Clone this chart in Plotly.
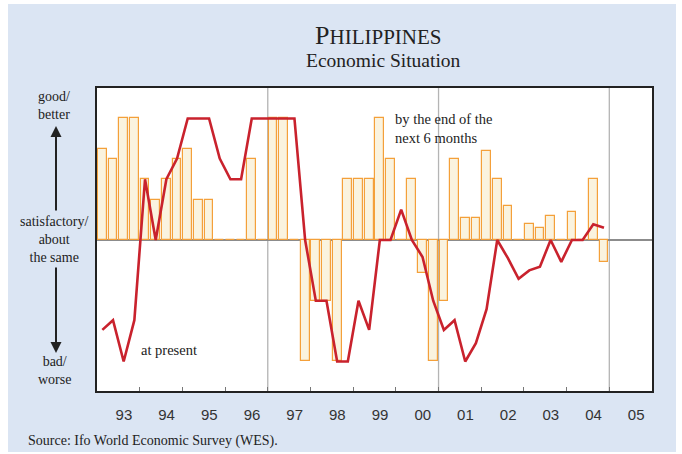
import plotly.graph_objects as go

# Quarterly survey results, 1993 Q1 - 2004 Q4
years = list(range(1993, 2005))
quarters = [1, 2, 3, 4]

# Expectations: by the end of the next 6 months (bars)
expected = [
    75, 67, 100, 100,     # 1993
    50, 33, 50, 67,       # 1994
    75, 33, 33, 0,        # 1995
    0, 0, 67, 0,          # 1996
    100, 100, 0, -100,    # 1997
    -50, -50, -100, 50,   # 1998
    50, 50, 100, 67,      # 1999
    0, 50, -27, -100,     # 2000
    -50, 67, 18, 18,      # 2001
    73, 50, 28, 0,        # 2002
    13, 10, 20, 0,        # 2003
    23, 0, 50, -18,       # 2004
]

# Present economic situation (line)
present = [
    -74, -66, -100, -66,  # 1993
    50, 0, 50, 67,        # 1994
    100, 100, 100, 67,    # 1995
    50, 50, 100, 100,     # 1996
    100, 100, 100, 0,     # 1997
    -50, -50, -100, -100, # 1998
    -50, -74, 0, 0,       # 1999
    25, 0, -14, -50,      # 2000
    -74, -66, -100, -85,  # 2001
    -57, 0, -15, -32,     # 2002
    -25, -22, 0, -18,     # 2003
    0, 0, 13, 10,         # 2004
]

year_labels = ["93", "94", "95", "96", "97", "98", "99", "00", "01", "02", "03", "04", "05"]

# quarter centres on a continuous year axis
xq = [y + (q - 0.5) / 4 for y in years for q in quarters]

BLUE_BG = "#dbe5f3"
SERIF = "Liberation Serif, Times New Roman, serif"
SANS = "Liberation Sans, Arial, sans-serif"

fig = go.Figure()

fig.add_trace(go.Bar(
    x=xq, y=expected, width=0.205,
    marker=dict(color="#faf3df", line=dict(color="#f4a03a", width=1.2)),
    hoverinfo="skip", showlegend=False,
))

fig.add_trace(go.Scatter(
    x=xq, y=present, mode="lines",
    line=dict(color="#c9222d", width=2.6),
    hoverinfo="skip", showlegend=False,
))

# plot area geometry (pixels)
L, R, T, B = 97, 652, 88, 391
W, H = 682, 454


def px(xp):
    return (xp - L) / (R - L)


def py(yp):
    return (B - yp) / (B - T)


label_pos = [1993 + i + 0.63 for i in range(len(year_labels))]

fig.update_layout(
    width=W, height=H,
    margin=dict(l=L, r=W - R, t=T, b=H - B, pad=0),
    paper_bgcolor="white",
    plot_bgcolor="white",
    bargap=0,
    xaxis=dict(
        range=[1993, 2006],
        tickmode="array", tickvals=label_pos, ticktext=year_labels,
        ticks="", ticklabelstandoff=9,
        tickfont=dict(family=SANS, size=15, color="#333333"),
        showgrid=False, zeroline=False,
        showline=True, linecolor="#222222", linewidth=1.5, mirror=True,
        minor=dict(tickmode="array", tickvals=list(range(1994, 2006)),
                   ticks="inside", ticklen=4, tickcolor="#777777", tickwidth=1,
                   showgrid=False),
        fixedrange=True,
    ),
    yaxis=dict(
        range=[-124.3, 125.1],
        showticklabels=False, ticks="", showgrid=False,
        zeroline=True, zerolinecolor="#8c8c8c", zerolinewidth=2,
        showline=True, linecolor="#222222", linewidth=1.5, mirror=True,
        fixedrange=True,
    ),
)

shapes = [
    # light blue panel behind everything
    dict(type="rect", xref="paper", yref="paper", layer="below",
         x0=px(8), x1=px(676), y0=py(452), y1=py(4),
         fillcolor=BLUE_BG, line=dict(width=0)),
    # white plotting field
    dict(type="rect", xref="paper", yref="paper", layer="below",
         x0=0, x1=1, y0=0, y1=1, fillcolor="white", line=dict(width=0)),
]
# 4-year separators
for yr in (1997, 2001, 2005):
    shapes.append(dict(type="line", xref="x", yref="paper", layer="below",
                       x0=yr, x1=yr, y0=0, y1=1,
                       line=dict(color="#b4b4b4", width=1.3)))
fig.update_layout(shapes=shapes)

ann = []
# title
ann.append(dict(xref="paper", yref="paper", x=px(378), y=py(35),
                text="P<span style='font-size:21px'>HILIPPINES</span>",
                showarrow=False, font=dict(family=SERIF, size=26, color="#222222"),
                xanchor="center", yanchor="middle"))
ann.append(dict(xref="paper", yref="paper", x=px(383), y=py(61),
                text="Economic Situation", showarrow=False,
                font=dict(family=SERIF, size=19.5, color="#222222"),
                xanchor="center", yanchor="middle"))
# left scale descriptions
side = [("good/<br>better", 105), ("satisfactory/<br>about<br>the same", 239),
        ("bad/<br>worse", 370)]
for txt, yc in side:
    ann.append(dict(xref="paper", yref="paper", x=px(54), y=py(yc), text=txt,
                    showarrow=False, align="center",
                    font=dict(family=SERIF, size=14, color="#222222"),
                    xanchor="center", yanchor="middle"))
# arrows
ann.append(dict(xref="paper", yref="paper", x=px(56), y=py(126), ax=0, ay=86,
                text="", showarrow=True, arrowhead=2, arrowsize=1.1,
                arrowwidth=2, arrowcolor="#222222"))
ann.append(dict(xref="paper", yref="paper", x=px(56), y=py(353), ax=0, ay=-87,
                text="", showarrow=True, arrowhead=2, arrowsize=1.1,
                arrowwidth=2, arrowcolor="#222222"))
# series captions
ann.append(dict(xref="x", yref="y", x=1993.985, y=-90.5, text="at present",
                showarrow=False, xanchor="left", yanchor="middle",
                font=dict(family=SERIF, size=14.5, color="#222222")))
ann.append(dict(xref="x", yref="y", x=1999.93, y=91.4,
                text="by the end of the<br>next 6 months", align="left",
                showarrow=False, xanchor="left", yanchor="middle",
                font=dict(family=SERIF, size=14.5, color="#222222")))
# source
ann.append(dict(xref="paper", yref="paper", x=px(26), y=py(441),
                text="Source: Ifo World Economic Survey (WES).",
                showarrow=False, xanchor="left", yanchor="middle",
                font=dict(family=SERIF, size=14, color="#222222")))
fig.update_layout(annotations=ann)

fig.write_html("out.html")
